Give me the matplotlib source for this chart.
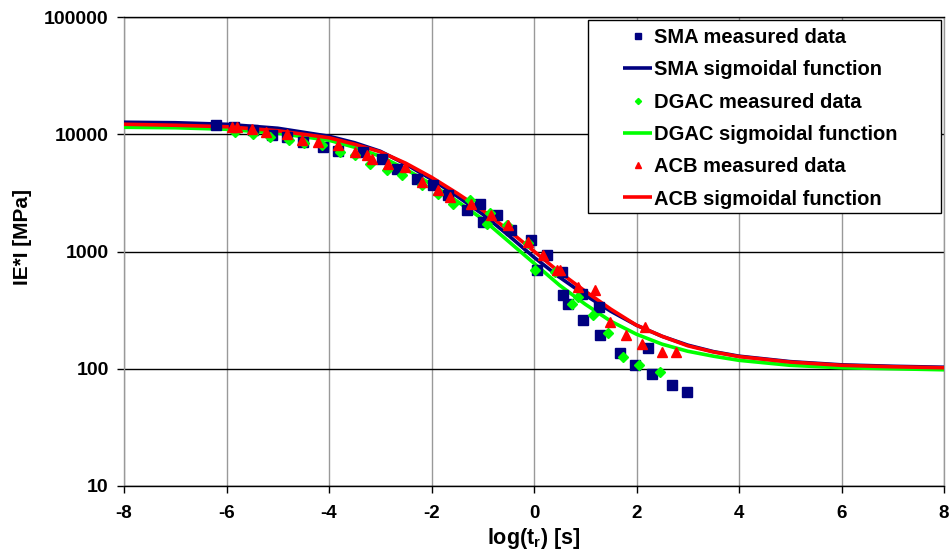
import matplotlib
matplotlib.use("Agg")
import matplotlib.pyplot as plt
from matplotlib.patches import Rectangle
from matplotlib.ticker import NullLocator
from matplotlib.font_manager import FontProperties

plt.rcParams['font.family'] = ['Liberation Sans', 'DejaVu Sans']
plt.rcParams['font.weight'] = 'bold'
plt.rcParams['mathtext.fontset'] = 'custom'
plt.rcParams['mathtext.rm'] = 'Liberation Sans:bold'
plt.rcParams['mathtext.it'] = 'Liberation Sans:bold'
plt.rcParams['mathtext.bf'] = 'Liberation Sans:bold'

# ---------------- data ----------------
sma_x = [-6.21, -5.85, -5.48, -5.12, -4.81, -4.51, -4.11, -3.82, -3.33, -2.97, -2.68, -2.28,
         -1.97, -1.67, -1.31, -1.05, -0.99, -0.73, -0.44, -0.05, 0.05, 0.25, 0.54, 0.57,
         0.67, 0.93, 0.96, 1.26, 1.29, 1.68, 1.97, 2.23, 2.30, 2.69, 2.98]
sma_y = [11900, 11470, 10820, 9810, 9480, 8600, 7790, 7160, 7060, 6210, 5100, 4190,
         3670, 3020, 2250, 2560, 1790, 2040, 1520, 1250, 692, 929, 669, 423,
         360, 438, 259, 337, 193, 135, 107, 149, 91, 72, 63]

dgac_x = [-5.83, -5.49, -5.15, -4.79, -4.49, -4.14, -3.79, -3.49, -3.20, -2.87, -2.58, -2.19,
          -1.87, -1.58, -1.25, -0.92, -0.86, -0.53, -0.11, 0.02, 0.41, 0.74, 0.86, 1.16,
          1.45, 1.74, 2.04, 2.46]
dgac_y = [10460, 10000, 9480, 8890, 8430, 8060, 7060, 6620, 5630, 4930, 4470, 3670,
          3120, 2560, 2740, 1730, 2110, 1670, 1180, 692, 669, 360, 410, 286,
          200, 126, 107, 94]

acb_x = [-5.90, -5.80, -5.51, -5.22, -4.81, -4.52, -4.21, -3.82, -3.49, -3.26, -3.17, -2.84,
         -2.52, -2.19, -1.87, -1.64, -1.22, -0.83, -0.50, -0.11, 0.18, 0.44, 0.51, 0.86,
         1.19, 1.48, 1.80, 2.10, 2.17, 2.49, 2.78]
acb_y = [11540, 11540, 11180, 10460, 10000, 8890, 8600, 8060, 7060, 6620, 6210, 5630,
         5260, 3920, 3330, 2920, 2560, 2040, 1670, 1210, 929, 692, 692, 498,
         467, 251, 193, 164, 227, 139, 139]

curve_x = [-8, -7, -6, -5, -4, -3.5, -3, -2.5, -2, -1.5, -1, -0.5, 0, 0.5, 1, 1.5, 2, 2.5,
           3, 3.5, 4, 5, 6, 7, 8]
sma_fit = [12660, 12540, 12160, 11250, 9614, 8462, 7161, 5547, 4131, 2959, 2079, 1376, 893,
           603, 424, 309, 235, 189, 159, 140, 128, 115, 108, 105, 103]
dgac_fit = [11470, 11360, 11030, 10197, 8889, 7746, 6494, 5030, 3746, 2683, 1884, 1223, 794,
            515, 355, 254, 197, 162, 141, 128, 118, 107, 102, 100, 98]
acb_fit = [12170, 11930, 11590, 10711, 9336, 8217, 7080, 5657, 4298, 3139, 2248, 1518, 1005,
           665, 458, 322, 235, 189, 157, 139, 127, 114, 107, 104, 102]

x_ticks = [-8, -6, -4, -2, 0, 2, 4, 6, 8]
x_tick_labels = ['-8', '-6', '-4', '-2', '0', '2', '4', '6', '8']
y_ticks = [10, 100, 1000, 10000, 100000]
y_tick_labels = ['10', '100', '1000', '10000', '100000']

NAVY = '#000080'
GREEN = '#00FF00'
RED = '#FF0000'

# ---------------- figure ----------------
fig = plt.figure(figsize=(9.51, 5.56), dpi=100)
ax = fig.add_axes([124 / 951, 1 - 486 / 556, 820 / 951, 469 / 556])

l_sma, = ax.plot(curve_x, sma_fit, color=NAVY, lw=2.6, zorder=3, solid_capstyle='butt')
l_dgac, = ax.plot(curve_x, dgac_fit, color=GREEN, lw=2.6, zorder=3, solid_capstyle='butt')
l_acb, = ax.plot(curve_x, acb_fit, color=RED, lw=2.6, zorder=3, solid_capstyle='butt')

m_sma, = ax.plot(sma_x, sma_y, ls='none', marker='s', ms=6.5, color=NAVY, mec=NAVY, zorder=4)
m_dgac, = ax.plot(dgac_x, dgac_y, ls='none', marker='D', ms=5.2, color=GREEN, mec=GREEN, zorder=4)
m_acb, = ax.plot(acb_x, acb_y, ls='none', marker='^', ms=7, color=RED, mec=RED, zorder=4)

ax.set_yscale('log')
ax.set_xlim(-8, 8)
ax.set_ylim(10, 100000)
ax.set_xticks(x_ticks)
ax.set_xticklabels(x_tick_labels)
ax.set_yticks(y_ticks)
ax.set_yticklabels(y_tick_labels)
ax.yaxis.set_minor_locator(NullLocator())
ax.xaxis.set_minor_locator(NullLocator())

ax.grid(axis='x', color='#999999', lw=1.0, zorder=1)
ax.grid(axis='y', color='black', lw=1.0, zorder=1)
ax.set_axisbelow(True)

for s in ['left', 'right']:
    ax.spines[s].set_color('#999999')
for s in ['top', 'bottom']:
    ax.spines[s].set_color('black')
for s in ax.spines.values():
    s.set_linewidth(1.0)

ax.tick_params(axis='both', direction='out', length=5, width=1, color='black')
ax.tick_params(axis='y', labelsize=14, pad=6)
ax.tick_params(axis='x', labelsize=13.5, pad=9)
for lab in ax.get_xticklabels() + ax.get_yticklabels():
    lab.set_fontweight('bold')

ax.set_xlabel(r'log(t$_{r}$) [s]', fontsize=15.5, fontweight='bold')
ax.xaxis.set_label_coords(0.5, -0.085)
ax.set_ylabel('IE*I [MPa]', fontsize=15, fontweight='bold')
ax.yaxis.set_label_coords(-0.112, 0.53)

# legend box
rect = Rectangle((588 / 951, 1 - 213 / 556), (941 - 588) / 951, (213 - 20) / 556,
                 transform=fig.transFigure, facecolor='white', edgecolor='black',
                 lw=1.0, zorder=5, clip_on=False)
ax.add_patch(rect)

handles = [m_sma, l_sma, m_dgac, l_dgac, m_acb, l_acb]
labels = ['SMA measured data', 'SMA sigmoidal function', 'DGAC measured data',
          'DGAC sigmoidal function', 'ACB measured data', 'ACB sigmoidal function']
leg = ax.legend(handles, labels, loc='upper left',
                bbox_to_anchor=(613 / 951, 1 - 18 / 556), bbox_transform=fig.transFigure,
                frameon=False, borderpad=0, handlelength=1.45, handletextpad=0.1,
                labelspacing=0.66, markerscale=0.6,
                prop=FontProperties(family='Liberation Sans', weight='bold', size=14.5))
leg.set_zorder(6)

fig.savefig('out.png', dpi=100)
